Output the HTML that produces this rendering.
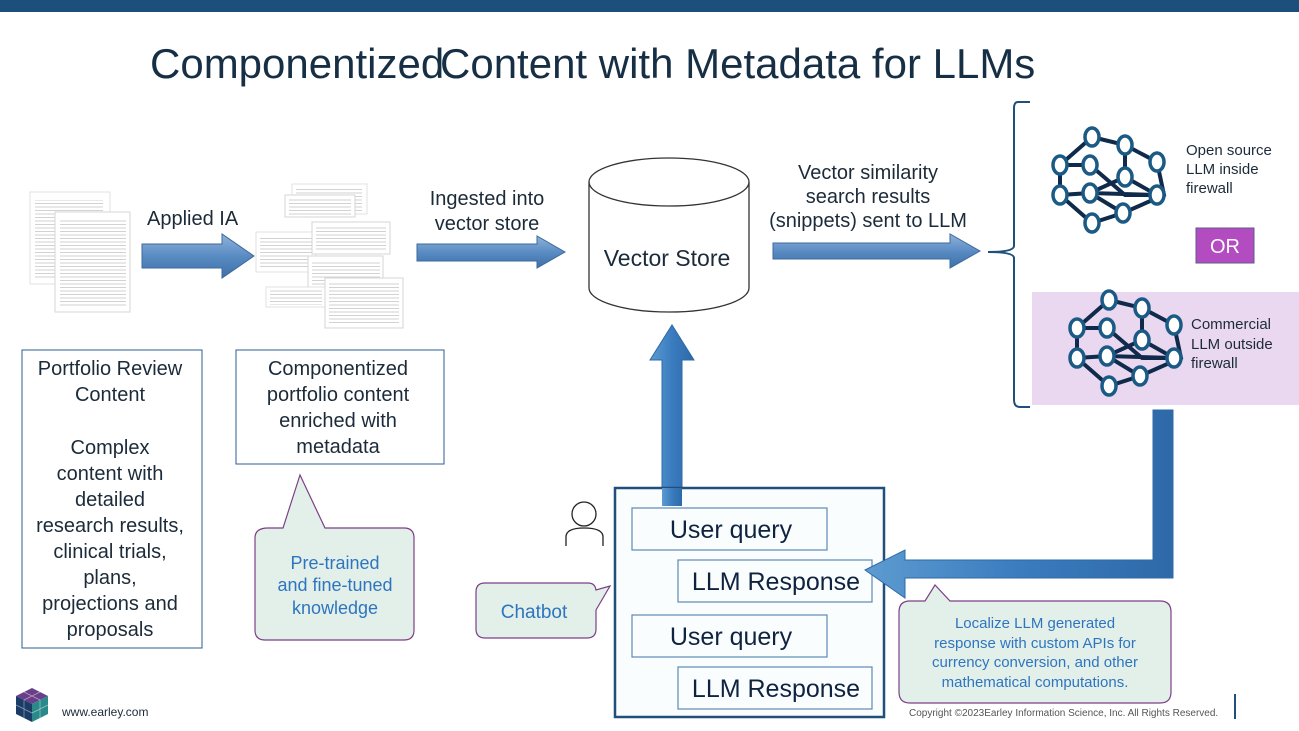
<!DOCTYPE html>
<html><head><meta charset="utf-8"><style>
html,body{margin:0;padding:0;background:#fff}
svg{display:block}
text{font-family:"Liberation Sans",sans-serif}
</style></head><body>
<svg width="1299" height="731" viewBox="0 0 1299 731" xmlns="http://www.w3.org/2000/svg">
<defs>
<linearGradient id="ag" x1="0" y1="0" x2="0" y2="1"><stop offset="0" stop-color="#8fb3d9"/><stop offset="0.5" stop-color="#5a8cc4"/><stop offset="1" stop-color="#3d6fa8"/></linearGradient>
<linearGradient id="vg" x1="0" y1="0" x2="1" y2="0"><stop offset="0" stop-color="#5d9bd0"/><stop offset="0.5" stop-color="#3a7cbf"/><stop offset="1" stop-color="#2e69a8"/></linearGradient>
<pattern id="tx" width="60" height="3.5" patternUnits="userSpaceOnUse"><rect width="60" height="1" fill="#d2d2d2"/></pattern>
<g id="net" stroke="#0f2a4a" stroke-width="4" fill="none">
<path d="M1092,137 L1125,145 L1157,162 L1164,195 L1123,213 L1092,223 L1060,195 L1060,165 L1092,137 M1060,165 L1090,165 L1125,195 L1157,195 M1125,145 L1125,177 L1090,193 L1060,195 M1090,193 L1123,213 M1125,177 L1157,195 M1090,193 L1157,195"/>
<g fill="#fff" stroke="#1a5a85" stroke-width="3.5">
<ellipse cx="1092" cy="137" rx="7" ry="9"/><ellipse cx="1125" cy="145" rx="7" ry="9"/><ellipse cx="1060" cy="165" rx="7" ry="9"/><ellipse cx="1090" cy="165" rx="7" ry="9"/><ellipse cx="1157" cy="162" rx="7" ry="9"/><ellipse cx="1125" cy="177" rx="7" ry="9"/><ellipse cx="1060" cy="195" rx="7" ry="9"/><ellipse cx="1090" cy="193" rx="7" ry="9"/><ellipse cx="1157" cy="195" rx="7" ry="9"/><ellipse cx="1123" cy="213" rx="7" ry="9"/><ellipse cx="1092" cy="223" rx="7" ry="9"/>
</g></g>
</defs>
<rect x="0" y="0" width="1299" height="12" fill="#1d4f7c"/>
<text x="150" y="78" font-size="42" fill="#172f45">Componentized</text>
<text x="440" y="78" font-size="42" fill="#172f45">Content with Metadata for LLMs</text>

<g>
<rect x="30" y="192" width="80" height="92" fill="#fff" stroke="#e2e2e2"/>
<rect x="35" y="200" width="68" height="80" fill="url(#tx)"/>
<rect x="55" y="212" width="75" height="100" fill="#fff" stroke="#d5d5d5"/>
<rect x="60" y="218" width="66" height="90" fill="url(#tx)"/>
</g>
<g>
<rect x="292" y="184" width="75" height="30" fill="#fff" stroke="#e2e2e2"/><rect x="296" y="188" width="66" height="24" fill="url(#tx)"/>
<rect x="285" y="195" width="70" height="22" fill="#fff" stroke="#d5d5d5"/><rect x="289" y="198" width="62" height="17" fill="url(#tx)"/>
<rect x="256" y="232" width="60" height="40" fill="#fff" stroke="#e2e2e2"/><rect x="260" y="236" width="52" height="33" fill="url(#tx)"/>
<rect x="312" y="222" width="78" height="32" fill="#fff" stroke="#d5d5d5"/><rect x="316" y="226" width="70" height="26" fill="url(#tx)"/>
<rect x="308" y="256" width="75" height="40" fill="#fff" stroke="#d5d5d5"/><rect x="312" y="260" width="68" height="33" fill="url(#tx)"/>
<rect x="266" y="287" width="60" height="20" fill="#fff" stroke="#e2e2e2"/><rect x="270" y="290" width="52" height="15" fill="url(#tx)"/>
<rect x="325" y="278" width="78" height="50" fill="#fff" stroke="#d5d5d5"/><rect x="329" y="282" width="70" height="43" fill="url(#tx)"/>
</g>

<polygon points="142,244 222,244 222,234 254,256 222,278 222,268 142,268" fill="url(#ag)" stroke="#3d6a9c" stroke-width="1"/>
<polygon points="417,244 537,244 537,236 565,252 537,268 537,261 417,261" fill="url(#ag)" stroke="#3d6a9c" stroke-width="1"/>
<polygon points="773,243 950,243 950,234 980,251 950,268 950,259 773,259" fill="url(#ag)" stroke="#3d6a9c" stroke-width="1"/>
<text x="147" y="225" font-size="20" fill="#1c2b3a">Applied IA</text>
<text x="487" y="205" font-size="20" fill="#1c2b3a" text-anchor="middle">Ingested into</text>
<text x="487" y="230" font-size="20" fill="#1c2b3a" text-anchor="middle">vector store</text>
<text x="868" y="179" font-size="20" fill="#1c2b3a" text-anchor="middle">Vector similarity</text>
<text x="868" y="203" font-size="20" fill="#1c2b3a" text-anchor="middle">search results</text>
<text x="868" y="227" font-size="20" fill="#1c2b3a" text-anchor="middle">(snippets) sent to LLM</text>

<path d="M589,182 L589,288 A80,24 0 0 0 749,288 L749,182" fill="#fff" stroke="#333" stroke-width="1.3"/>
<ellipse cx="669" cy="182" rx="80" ry="24" fill="#fff" stroke="#333" stroke-width="1.3"/>
<text x="667" y="266" font-size="23" fill="#1c2b3a" text-anchor="middle">Vector Store</text>

<polygon points="662,505 662,360 650,360 672,325 694,360 682,360 682,505" fill="url(#vg)" stroke="#2e69a8"/>

<path d="M1030,102 L1018,102 Q1014,102 1014,108 L1014,246 Q1014,252 988,252 Q1014,252 1014,258 L1014,400 Q1014,407 1020,407 L1030,407" fill="none" stroke="#1f4f7a" stroke-width="2"/>
<rect x="1032" y="292" width="267" height="113" fill="#ead8f0"/>
<use href="#net"/>
<use href="#net" transform="translate(17,163)"/>
<text x="1186" y="155" font-size="15" fill="#1c2b3a">Open source</text>
<text x="1186" y="174" font-size="15" fill="#1c2b3a">LLM inside</text>
<text x="1186" y="193" font-size="15" fill="#1c2b3a">firewall</text>
<rect x="1196" y="228" width="58" height="35" fill="#b34cc1" stroke="#5b5b8a"/>
<text x="1225" y="253" font-size="20" fill="#fff" text-anchor="middle">OR</text>
<text x="1191" y="329" font-size="15" fill="#1c2b3a">Commercial</text>
<text x="1191" y="349" font-size="15" fill="#1c2b3a">LLM outside</text>
<text x="1191" y="368" font-size="15" fill="#1c2b3a">firewall</text>

<rect x="22" y="350" width="180" height="298" fill="#fff" stroke="#2a5f8f" stroke-width="1"/>
<g font-size="20" fill="#1c2b3a" text-anchor="middle">
<text x="110" y="375">Portfolio Review</text><text x="110" y="401">Content</text>
<text x="110" y="454">Complex</text><text x="110" y="480">content with</text><text x="110" y="506">detailed</text>
<text x="110" y="532">research results,</text><text x="110" y="558">clinical trials,</text><text x="110" y="584">plans,</text>
<text x="110" y="610">projections and</text><text x="110" y="636">proposals</text>
</g>
<rect x="236" y="350" width="208" height="114" fill="#fff" stroke="#2a5f8f" stroke-width="1"/>
<g font-size="20" fill="#1c2b3a" text-anchor="middle">
<text x="338" y="375">Componentized</text><text x="338" y="401">portfolio content</text>
<text x="338" y="427">enriched with</text><text x="338" y="453">metadata</text>
</g>

<path d="M268,528 L283,528 L300,475 L325,528 L404,528 Q414,528 414,538 L414,630 Q414,640 404,640 L265,640 Q255,640 255,630 L255,538 Q255,528 268,528 Z" fill="#e3f0ea" stroke="#7c3f87" stroke-width="1.2"/>
<g font-size="18" fill="#2e75c0" text-anchor="middle">
<text x="335" y="569">Pre-trained</text><text x="335" y="591">and fine-tuned</text><text x="335" y="614">knowledge</text>
</g>
<path d="M485,583 L588,583 Q595,583 596,590 L610,586 L596,610 L596,629 Q596,638 587,638 L485,638 Q476,638 476,629 L476,592 Q476,583 485,583 Z" fill="#e3f0ea" stroke="#7c3f87" stroke-width="1.2"/>
<text x="534" y="618" font-size="19" fill="#2e75c0" text-anchor="middle">Chatbot</text>
<path d="M910,601 L925,601 L935,585 L950,601 L1160,601 Q1171,601 1171,612 L1171,692 Q1171,703 1160,703 L910,703 Q899,703 899,692 L899,612 Q899,601 910,601 Z" fill="#e3f0ea" stroke="#7c3f87" stroke-width="1.2"/>
<g font-size="15" fill="#2e75c0" text-anchor="middle">
<text x="1035" y="628">Localize LLM generated</text><text x="1035" y="648">response with custom APIs for</text>
<text x="1035" y="667">currency conversion, and other</text><text x="1035" y="687">mathematical computations.</text>
</g>

<circle cx="584" cy="514" r="12" fill="none" stroke="#222" stroke-width="1.3"/>
<path d="M566,546 L566,537 Q566,528 584,528 Q603,528 603,537 L603,546" fill="none" stroke="#222" stroke-width="1.3"/>

<rect x="615" y="488" width="269" height="229" fill="#fafdfe" stroke="#1f4f7a" stroke-width="2.5"/>
<rect x="662" y="488" width="20" height="18" fill="url(#vg)"/>
<g fill="#fafdfe" stroke="#5c89b3" stroke-width="1.2">
<rect x="632" y="508" width="195" height="42"/><rect x="678" y="560" width="194" height="42"/>
<rect x="632" y="615" width="195" height="42"/><rect x="678" y="667" width="194" height="42"/>
</g>
<g font-size="25" fill="#0f2340" text-anchor="middle">
<text x="731" y="538">User query</text><text x="776" y="590">LLM Response</text>
<text x="731" y="645">User query</text><text x="776" y="697">LLM Response</text>
</g>

<polygon points="1153,410 1173,410 1173,578 905,578 905,598 865,570 905,550 905,560 1153,560" fill="url(#vg)" stroke="#2e69a8"/>

<g>
<polygon points="32,688 48,696 32,704 16,696" fill="#6a3f8a"/>
<polygon points="16,696 32,704 32,722 16,714" fill="#1b3c66"/>
<polygon points="32,704 48,696 48,714 32,722" fill="#2a8a8a"/>
<path d="M24,692 L40,700 M40,692 L24,700 M16,705 L32,713 M24,700 L24,718 M32,713 L48,705 M40,700 L40,718" stroke="#fff" stroke-width="0.7" opacity="0.5"/>
</g>
<text x="62" y="716" font-size="12" fill="#1c2b3a">www.earley.com</text>
<text x="909" y="716" font-size="10" fill="#555">Copyright ©2023Earley Information Science, Inc. All Rights Reserved.</text>
<rect x="1234" y="694" width="2" height="25" fill="#1f4f7a"/>
</svg>
</body></html>
